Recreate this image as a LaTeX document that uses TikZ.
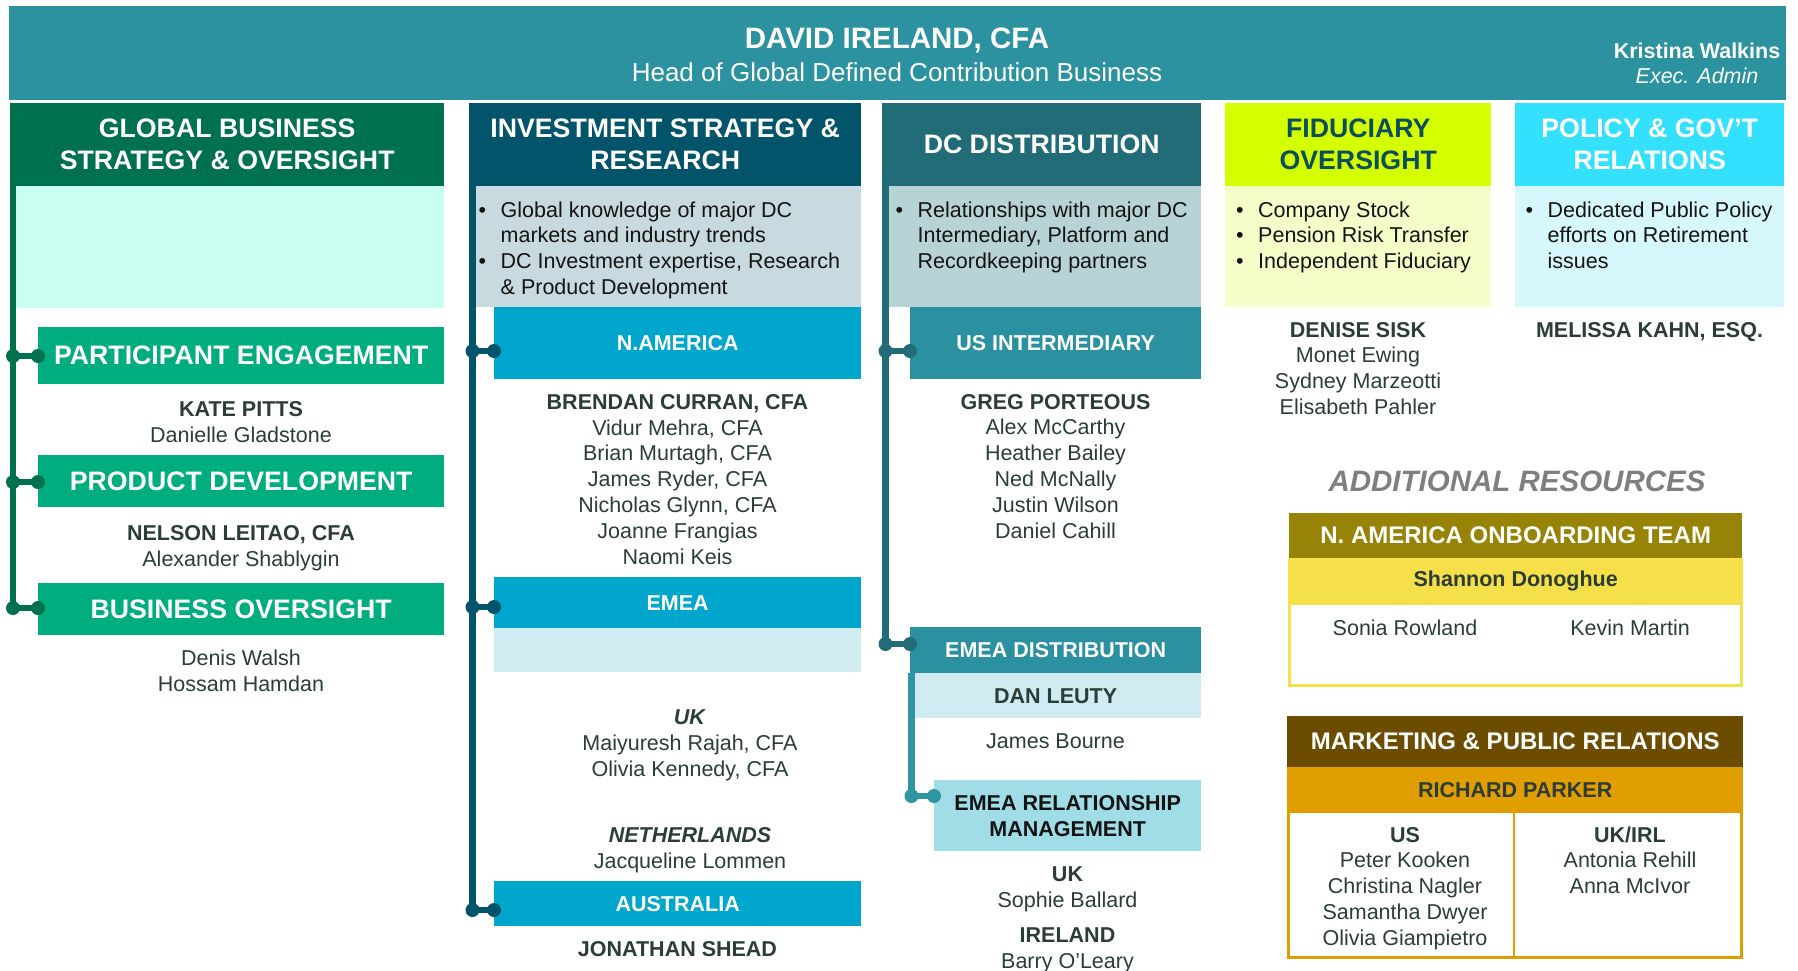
\documentclass[tikz,border=0pt]{standalone}
\usepackage{fontspec}
\setmainfont{Liberation Sans}

\definecolor{banner}{HTML}{2C92A0}
\definecolor{gbsHead}{HTML}{00714F}
\definecolor{gbsBody}{HTML}{C8FFF0}
\definecolor{gbsSub}{HTML}{00AD7F}
\definecolor{isrHead}{HTML}{02546A}
\definecolor{isrBody}{HTML}{C8DADF}
\definecolor{isrSub}{HTML}{00A6CB}
\definecolor{isrLight}{HTML}{D0ECF2}
\definecolor{dcdHead}{HTML}{226C78}
\definecolor{dcdBody}{HTML}{B8D3D6}
\definecolor{dcdSub}{HTML}{2B909F}
\definecolor{dcdLine}{HTML}{2F95A5}
\definecolor{dcdRM}{HTML}{A0DDE7}
\definecolor{fidHead}{HTML}{D4FF00}
\definecolor{fidBody}{HTML}{F5FDC8}
\definecolor{fidText}{HTML}{0B4D5C}
\definecolor{polHead}{HTML}{33E1FF}
\definecolor{polBody}{HTML}{D6F8FD}
\definecolor{onbHead}{HTML}{978306}
\definecolor{onbBand}{HTML}{F5E04A}
\definecolor{mktHead}{HTML}{6C4D00}
\definecolor{mktBand}{HTML}{E09E00}
\definecolor{nameText}{HTML}{2B3D36}
\definecolor{bulText}{HTML}{141414}
\definecolor{addText}{HTML}{7F7F7F}

\tikzset{
  box/.style={rectangle, inner sep=0pt, anchor=north west, align=center},
  wh/.style 2 args={minimum width=#1pt, minimum height=#2pt},
  colhead/.style={box, text=white, font=\fontsize{26.7}{32}\selectfont\bfseries},
  subhead/.style={box, text=white, font=\fontsize{21.5}{26}\selectfont\bfseries},
  teamhead/.style={box, text=white, font=\fontsize{24}{28}\selectfont\bfseries},
  namelist/.style={anchor=base, align=center, inner sep=0pt, text=nameText,
    font=\fontsize{21.5}{25.8}\selectfont},
  bullets/.style={anchor=base west, align=left, inner sep=0pt, text=bulText,
    font=\fontsize{21.5}{25.8}\selectfont},
  bar/.style={line width=6pt},
}
\newcommand\bul{\makebox[22pt][l]{\textbullet}}
\newcommand\bulgap{\hspace*{22pt}}

\begin{document}
\begin{tikzpicture}[x=1pt, y=-1pt]
\useasboundingbox (0,0) rectangle (1798,970);

% head banner (multi-line texts sit on their last baseline)
\node[box, fill=banner, wh={1777}{94}] (top) at (9,6) {};
\node[anchor=base, text=white, font=\fontsize{29.5}{32}\selectfont\bfseries] (boss) at (897,48.3) {DAVID IRELAND, CFA};
\node[anchor=base, text=white, font=\fontsize{26}{30}\selectfont] (bossRole) at (897,81) {Head of Global Defined Contribution Business};
\node[anchor=base, align=center, inner sep=0pt, text=white, font=\fontsize{21.5}{25}\selectfont] (admin) at (1697,83) {\textbf{Kristina Walkins}\\\textit{Exec. Admin}};

% column heads
\node[colhead, fill=gbsHead, wh={434}{83}] (gbsHead) at (10,103) {GLOBAL BUSINESS\\STRATEGY \& OVERSIGHT};
\node[colhead, fill=isrHead, wh={392}{83}] (isrHead) at (469,103) {INVESTMENT STRATEGY \&\\RESEARCH};
\node[colhead, fill=dcdHead, wh={319}{83}] (dcdHead) at (882,103) {DC DISTRIBUTION};
\node[colhead, fill=fidHead, text=fidText, wh={266}{83}] (fidHead) at (1225,103) {FIDUCIARY\\OVERSIGHT};
\node[colhead, fill=polHead, wh={269}{83}] (polHead) at (1515,103) {POLICY \& GOV’T\\RELATIONS};

% column bodies
\node[box, fill=gbsBody, wh={428}{122}] (gbsBody) at (16,186) {};
\node[box, fill=isrBody, wh={385}{121}] (isrBody) at (476,186) {};
\node[box, fill=dcdBody, wh={312}{121}] (dcdBody) at (889,186) {};
\node[box, fill=fidBody, wh={266}{121}] (fidBody) at (1225,186) {};
\node[box, fill=polBody, wh={269}{121}] (polBody) at (1515,186) {};

\node[bullets] (isrList) at (478.5,294.4) {\bul Global knowledge of major DC\\\bulgap markets and industry trends\\\bul DC Investment expertise, Research\\\bulgap \& Product Development};
\node[bullets] (dcdList) at (895.5,268.6) {\bul Relationships with major DC\\\bulgap Intermediary, Platform and\\\bulgap Recordkeeping partners};
\node[bullets] (fidList) at (1236,268.6) {\bul Company Stock\\\bul Pension Risk Transfer\\\bul Independent Fiduciary};
\node[bullets] (polList) at (1525.5,268.6) {\bul Dedicated Public Policy\\\bulgap efforts on Retirement\\\bulgap issues};

% global business strategy
\node[subhead, fill=gbsSub, font=\fontsize{26.7}{30}\selectfont\bfseries, wh={406}{57}] (pe) at (38,327) {PARTICIPANT ENGAGEMENT};
\node[subhead, fill=gbsSub, font=\fontsize{26.7}{30}\selectfont\bfseries, wh={406}{52}] (pd) at (38,455) {PRODUCT DEVELOPMENT};
\node[subhead, fill=gbsSub, font=\fontsize{26.7}{30}\selectfont\bfseries, wh={406}{52}] (bo) at (38,583) {BUSINESS OVERSIGHT};

\coordinate (gbsTop) at (13,186);
\coordinate (gbsJ1) at (13,356);
\coordinate (gbsJ2) at (13,482);
\coordinate (gbsJ3) at (13,608);
\draw[bar, gbsHead] (gbsTop) -- (gbsJ3);
\draw[bar, gbsHead] (gbsJ1) -- (pe.west |- gbsJ1);
\fill[gbsHead] (gbsJ1) circle (7pt) (pe.west |- gbsJ1) circle (7pt);
\draw[bar, gbsHead] (gbsJ2) -- (pd.west |- gbsJ2);
\fill[gbsHead] (gbsJ2) circle (7pt) (pd.west |- gbsJ2) circle (7pt);
\draw[bar, gbsHead] (gbsJ3) -- (bo.west |- gbsJ3);
\fill[gbsHead] (gbsJ3) circle (7pt) (bo.west |- gbsJ3) circle (7pt);

\node[namelist] (kate) at (241,442) {\textbf{KATE PITTS}\\Danielle Gladstone};
\node[namelist] (nelson) at (241,566) {\textbf{NELSON LEITAO, CFA}\\Alexander Shablygin};
\node[namelist] (denis) at (241,691) {Denis Walsh\\Hossam Hamdan};

% investment strategy
\node[subhead, fill=isrSub, wh={367}{72}] (nam) at (494,307) {N.AMERICA};
\node[subhead, fill=isrSub, wh={367}{51}] (emea) at (494,577) {EMEA};
\node[box, fill=isrLight, wh={367}{44}] (emeaBody) at (494,628) {};
\node[subhead, fill=isrSub, wh={367}{45}] (aus) at (494,881) {AUSTRALIA};

\coordinate (isrTop) at (472.5,186);
\coordinate (isrJ1) at (472.5,351);
\coordinate (isrJ2) at (472.5,607);
\coordinate (isrJ3) at (472.5,910);
\draw[bar, isrHead, line width=7pt] (isrTop) -- (isrJ3);
\draw[bar, isrHead] (isrJ1) -- (nam.west |- isrJ1);
\fill[isrHead] (isrJ1) circle (7pt) (nam.west |- isrJ1) circle (7pt);
\draw[bar, isrHead] (isrJ2) -- (emea.west |- isrJ2);
\fill[isrHead] (isrJ2) circle (7pt) (emea.west |- isrJ2) circle (7pt);
\draw[bar, isrHead] (isrJ3) -- (aus.west |- isrJ3);
\fill[isrHead] (isrJ3) circle (7pt) (aus.west |- isrJ3) circle (7pt);

\node[namelist] (brendan) at (677.5,564) {\textbf{BRENDAN CURRAN, CFA}\\Vidur Mehra, CFA\\Brian Murtagh, CFA\\James Ryder, CFA\\Nicholas Glynn, CFA\\Joanne Frangias\\Naomi Keis};
\node[namelist] (ukTeam) at (690,776) {\textbf{\textit{UK}}\\Maiyuresh Rajah, CFA\\Olivia Kennedy, CFA};
\node[namelist] (nlTeam) at (690,868) {\textbf{\textit{NETHERLANDS}}\\Jacqueline Lommen};
\node[namelist] (jonathan) at (677.5,956) {\textbf{JONATHAN SHEAD}};

% dc distribution
\node[subhead, fill=dcdSub, wh={291}{72}] (usi) at (910,307) {US INTERMEDIARY};
\node[subhead, fill=dcdSub, wh={291}{46}] (emd) at (910,627) {EMEA DISTRIBUTION};
\node[subhead, fill=isrLight, text=nameText, wh={291}{45}] (dan) at (910,673) {DAN LEUTY};
\node[subhead, fill=dcdRM, text=bulText, wh={267}{71}] (erm) at (934,780) {EMEA RELATIONSHIP\\MANAGEMENT};

\coordinate (dcdTop) at (885.5,186);
\coordinate (dcdJ1) at (885.5,351);
\coordinate (dcdJ2) at (885.5,644);
\draw[bar, dcdHead, line width=7pt] (dcdTop) -- (dcdJ2);
\draw[bar, dcdHead] (dcdJ1) -- (usi.west |- dcdJ1);
\fill[dcdHead] (dcdJ1) circle (7pt) (usi.west |- dcdJ1) circle (7pt);
\draw[bar, dcdHead] (dcdJ2) -- (emd.west |- dcdJ2);
\fill[dcdHead] (dcdJ2) circle (7pt) (emd.west |- dcdJ2) circle (7pt);
\coordinate (ermTop) at (911.5,673);
\coordinate (ermJ) at (911.5,796);
\draw[bar, dcdLine, line width=7pt] (ermTop) -- (ermJ);
\draw[bar, dcdLine] (ermJ) -- (erm.west |- ermJ);
\fill[dcdLine] (ermJ) circle (7pt) (erm.west |- ermJ) circle (7pt);

\node[namelist] (greg) at (1055.5,538) {\textbf{GREG PORTEOUS}\\Alex McCarthy\\Heather Bailey\\Ned McNally\\Justin Wilson\\Daniel Cahill};
\node[namelist] (james) at (1055.5,748) {James Bourne};
\node[namelist] (ukRM) at (1067.5,907) {\textbf{UK}\\Sophie Ballard};
\node[namelist] (ieRM) at (1067.5,968) {\textbf{IRELAND}\\Barry O’Leary};

% fiduciary and policy
\node[namelist] (denise) at (1358,414.4) {\textbf{DENISE SISK}\\Monet Ewing\\Sydney Marzeotti\\Elisabeth Pahler};
\node[namelist] (melissa) at (1649.5,337) {\textbf{MELISSA KAHN, ESQ.}};

% additional resources
\node[anchor=base, text=addText, font=\fontsize{29.5}{32}\selectfont\bfseries\itshape] (addRes) at (1517,491) {ADDITIONAL RESOURCES};

\node[teamhead, fill=onbHead, wh={453}{45}] (onbHead) at (1289,513) {N. AMERICA ONBOARDING TEAM};
\node[subhead, fill=onbBand, text=nameText, wh={455}{46}] (onbLead) at (1288,558) {Shannon Donoghue};
\draw[onbBand, line width=2.5pt] (1289.5,604) rectangle (1741.5,685.5);
\node[namelist] (sonia) at (1405,635) {Sonia Rowland};
\node[namelist] (kevin) at (1630,635) {Kevin Martin};

\node[teamhead, fill=mktHead, wh={456}{51}] (mktHead) at (1287,716) {MARKETING \& PUBLIC RELATIONS};
\node[subhead, fill=mktBand, text=nameText, wh={456}{45}] (mktLead) at (1287,767) {RICHARD PARKER};
\draw[mktBand, line width=2.5pt] (1288.5,812) rectangle (1741.5,957.5);
\draw[mktBand, line width=2.5pt] (1514,812) -- (1514,957.5);
\node[namelist] (usMkt) at (1405,945.2) {\textbf{US}\\Peter Kooken\\Christina Nagler\\Samantha Dwyer\\Olivia Giampietro};
\node[namelist] (ukMkt) at (1630,893.6) {\textbf{UK/IRL}\\Antonia Rehill\\Anna McIvor};
\end{tikzpicture}
\end{document}
